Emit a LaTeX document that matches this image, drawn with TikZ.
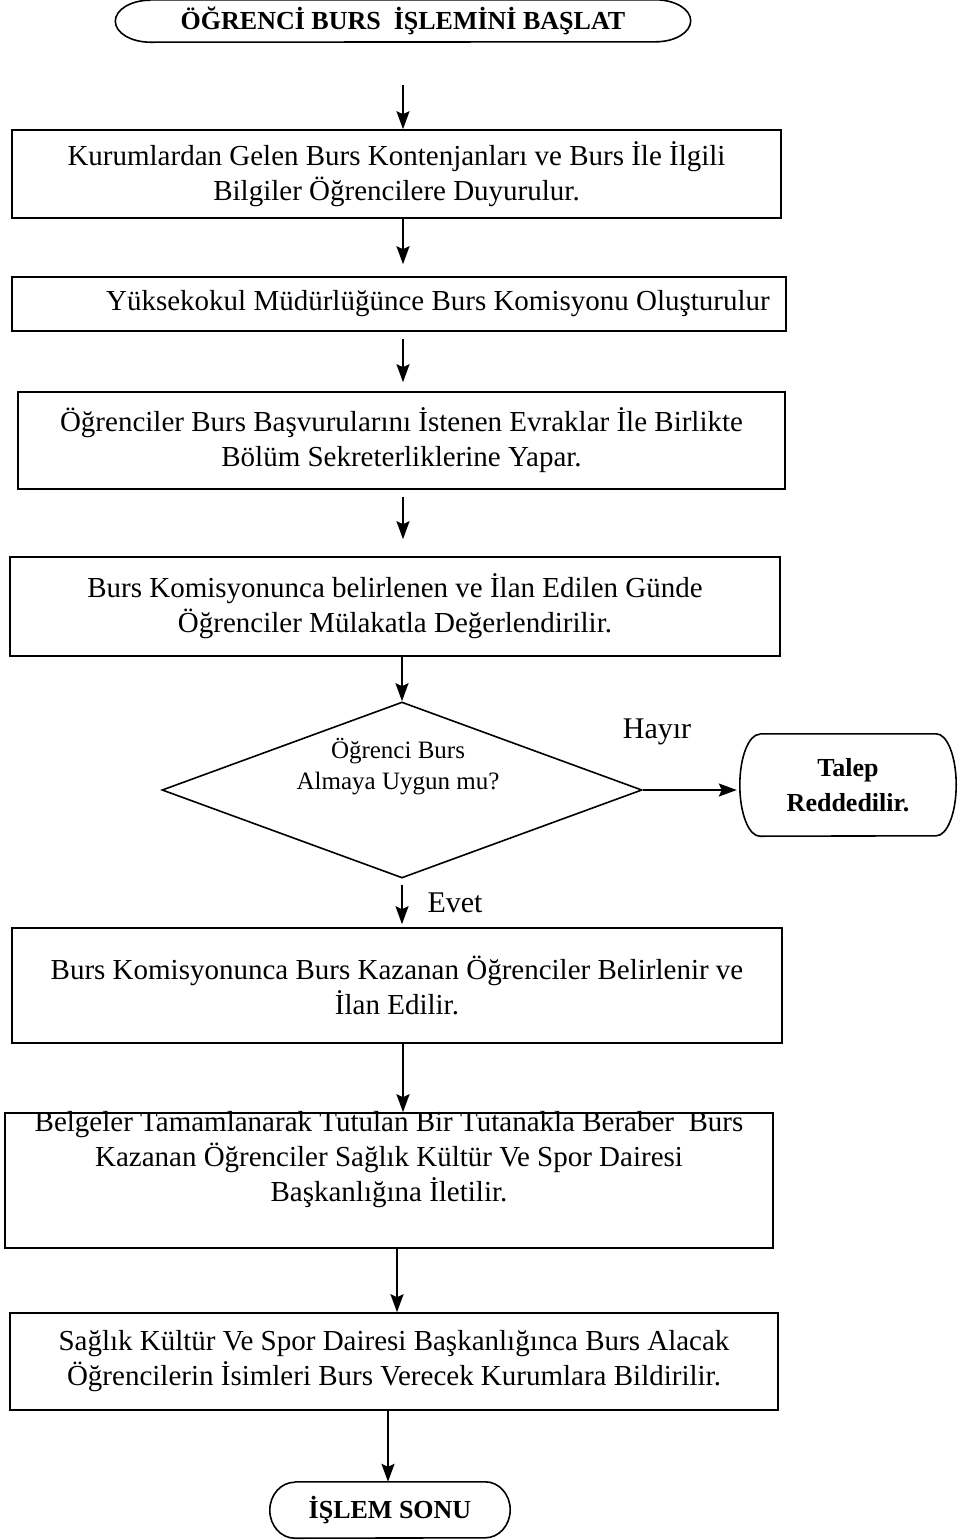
\documentclass[tikz,border=0pt]{standalone}
\usepackage{fontspec}
\setmainfont{Liberation Serif}
\usetikzlibrary{arrows.meta,shapes.geometric}

\tikzset{
  proc/.style={draw,line width=1.6pt,rectangle,inner sep=0pt,align=center,
    font=\fontsize{29}{35}\selectfont},
  txt/.style={inner sep=0pt,align=center,font=\fontsize{29}{35}\selectfont},
  termtext/.style={inner sep=0pt,align=center,font=\fontsize{26}{35}\selectfont\bfseries},
  decision/.style={draw,line width=1.6pt,diamond,aspect=2.7,inner sep=0pt,
    minimum width=480,minimum height=176},
  qtext/.style={inner sep=0pt,align=center,font=\fontsize{25}{31}\selectfont},
  answer/.style={inner sep=0pt,font=\fontsize{30}{36}\selectfont},
  outline/.style={line width=1.6pt},
  arr/.style={-{Stealth[length=18pt,width=13pt,inset=3pt]},line width=1.8pt}
}

\begin{document}
\begin{tikzpicture}[x=1pt,y=-1pt]
  \useasboundingbox (0,0) rectangle (964,1540);

  % start
  \node[termtext,minimum width=505,minimum height=42] (start) at (403,21)
    {ÖĞRENCİ BURS\ \ İŞLEMİNİ BAŞLAT};
  \draw[outline] (start.north west) -- (start.north east)
    arc[start angle=90,end angle=-90,x radius=35pt,y radius=21pt]
    -- (start.south west)
    arc[start angle=270,end angle=90,x radius=35pt,y radius=21pt];

  % steps
  \node[proc,minimum width=769,minimum height=88] (b1) at (396.5,174)
    {Kurumlardan Gelen Burs Kontenjanları ve Burs İle İlgili\\
     Bilgiler Öğrencilere Duyurulur.};
  \node[proc,minimum width=774,minimum height=54] (b2) at (399,304)
    {\hspace*{78pt}Yüksekokul Müdürlüğünce Burs Komisyonu Oluşturulur};
  \node[proc,minimum width=767,minimum height=97] (b3) at (401.5,440.5)
    {Öğrenciler Burs Başvurularını İstenen Evraklar İle Birlikte\\
     Bölüm Sekreterliklerine Yapar.};
  \node[proc,minimum width=770,minimum height=99] (b4) at (395,606.5)
    {Burs Komisyonunca belirlenen ve İlan Edilen Günde\\
     Öğrenciler Mülakatla Değerlendirilir.};

  % decision
  \node[decision] (q) at (402,790) {};
  \node[qtext] (qt) at (398,767) {Öğrenci Burs\\Almaya Uygun mu?};
  \node[answer] (no) at (657,732) {Hayır};
  \node[answer] (yes) at (455,903) {Evet};

  \node[termtext,minimum width=176,minimum height=102] (rej) at (848,785)
    {Talep\\Reddedilir.};
  \draw[outline] (rej.north west) -- (rej.north east)
    arc[start angle=90,end angle=-90,x radius=20pt,y radius=51pt]
    -- (rej.south west)
    arc[start angle=270,end angle=90,x radius=20pt,y radius=51pt];

  \node[proc,minimum width=770,minimum height=115] (b5) at (397,985.5)
    {Burs Komisyonunca Burs Kazanan Öğrenciler Belirlenir ve\\
     İlan Edilir.};
  \node[proc,minimum width=768,minimum height=135] (b6) at (389,1180.5) {};
  \node[txt] (b6t) at (389,1160)
    {Belgeler Tamamlanarak Tutulan Bir Tutanakla Beraber\ \ Burs\\
     Kazanan Öğrenciler Sağlık Kültür Ve Spor Dairesi\\
     Başkanlığına İletilir.};
  \node[proc,minimum width=768,minimum height=97] (b7) at (394,1361.5)
    {Sağlık Kültür Ve Spor Dairesi Başkanlığınca Burs Alacak\\
     Öğrencilerin İsimleri Burs Verecek Kurumlara Bildirilir.};

  % end
  \node[termtext,minimum width=190,minimum height=56] (end) at (390,1510)
    {İŞLEM SONU};
  \draw[outline] (end.north west) -- (end.north east)
    arc[start angle=90,end angle=-90,x radius=25pt,y radius=28pt]
    -- (end.south west)
    arc[start angle=270,end angle=90,x radius=25pt,y radius=28pt];

  % connectors
  \coordinate (colA) at (403,0);
  \coordinate (colB) at (397,0);
  \coordinate (colC) at (388,0);
  \draw[arr,shorten <=43pt] (start.south -| colA) -- (b1.north -| colA);
  \draw[arr,shorten >=12pt] (b1.south -| colA) -- (b2.north -| colA);
  \draw[arr,shorten <=7pt,shorten >=9pt] (b2.south -| colA) -- (b3.north -| colA);
  \draw[arr,shorten <=7pt,shorten >=17pt] (b3.south -| colA) -- (b4.north -| colA);
  \draw[arr] (b4.south -| q.north) -- (q.north);
  \draw[arr,shorten >=23pt] (q.east) -- (q.east -| rej.west);
  \draw[arr,shorten <=6pt,shorten >=3pt] (q.south) -- (b5.north -| q.south);
  \draw[arr] (b5.south -| colA) -- (b6.north -| colA);
  \draw[arr] (b6.south -| colB) -- (b7.north -| colB);
  \draw[arr] (b7.south -| colC) -- (end.north -| colC);
\end{tikzpicture}
\end{document}
